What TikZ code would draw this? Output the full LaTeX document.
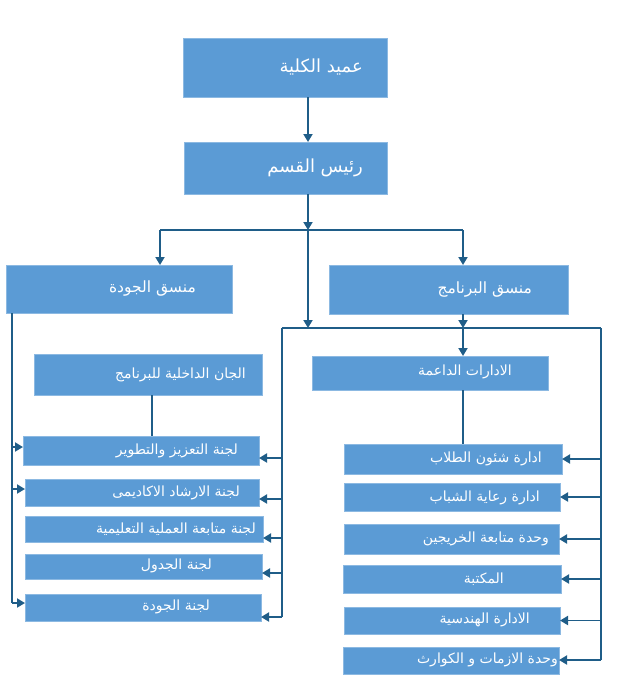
\documentclass[tikz,border=0pt]{standalone}
\usepackage{fontspec}
\newfontfamily\arabicfont[Script=Arabic]{DejaVu Sans}
\TeXXeTstate=1
\usetikzlibrary{arrows.meta}
\definecolor{boxblue}{RGB}{91,155,213}
\definecolor{linecol}{RGB}{31,93,136}
\newcommand{\artxt}[1]{\arabicfont\beginR #1\endR}
\begin{document}
\begin{tikzpicture}[x=1pt,y=-1pt,
  box/.style={fill=boxblue, draw=boxblue!70!white, line width=0.6pt, inner sep=0pt, outer sep=0pt},
  txt/.style={text=white, inner sep=0pt, anchor=east},
  big/.style={font=\fontsize{18}{20}\selectfont},
  mid/.style={font=\fontsize{15.5}{17}\selectfont},
  small/.style={font=\fontsize{14}{16}\selectfont},
  conn/.style={draw=linecol, line width=1.8pt},
  arr/.style={conn, -{Triangle[length=8pt,width=9pt]}}]
\useasboundingbox (0,0) rectangle (624,686);
% boxes
\node[box, minimum width=204pt, minimum height=59pt] (dean) at (285,67.5) {};
\node[box, minimum width=203pt, minimum height=52pt] (head) at (285.5,168) {};
\node[box, minimum width=226pt, minimum height=48pt] (qc) at (119,289) {};
\node[box, minimum width=239pt, minimum height=49pt] (pc) at (448.5,289.5) {};
\node[box, minimum width=228pt, minimum height=41pt] (lj) at (148,374.5) {};
\node[box, minimum width=236pt, minimum height=34pt] (sd) at (430,373) {};
\node[box, minimum width=236pt, minimum height=29pt] (L1) at (141,450.5) {};
\node[box, minimum width=234pt, minimum height=27pt] (L2) at (142,492.5) {};
\node[box, minimum width=238pt, minimum height=26pt] (L3) at (144,529) {};
\node[box, minimum width=237pt, minimum height=25pt] (L4) at (143.5,566.5) {};
\node[box, minimum width=236pt, minimum height=27pt] (L5) at (143,607.5) {};
\node[box, minimum width=218pt, minimum height=30pt] (R1) at (453,459) {};
\node[box, minimum width=216pt, minimum height=28pt] (R2) at (452,497) {};
\node[box, minimum width=215pt, minimum height=30pt] (R3) at (451.5,539) {};
\node[box, minimum width=218pt, minimum height=28pt] (R4) at (452,579) {};
\node[box, minimum width=216pt, minimum height=27pt] (R5) at (452,620.5) {};
\node[box, minimum width=216pt, minimum height=27pt] (R6) at (451,660.5) {};
% texts
\node[txt, big] (deanT) at (363,67) {\artxt{عميد الكلية}};
\node[txt, big] (headT) at (363,168) {\artxt{رئيس القسم}};
\node[txt, mid] (qcT) at (196,289) {\artxt{منسق الجودة}};
\node[txt, mid] (pcT) at (532,290) {\artxt{منسق البرنامج}};
\node[txt, small] (ljT) at (246,375) {\artxt{الجان الداخلية للبرنامج}};
\node[txt, small] (sdT) at (512,372) {\artxt{الادارات الداعمة}};
\node[txt, small] (L1T) at (238,451) {\artxt{لجنة التعزيز والتطوير}};
\node[txt, small] (L2T) at (240,493) {\artxt{لجنة الارشاد الاكاديمى}};
\node[txt, small] (L3T) at (256,529) {\artxt{لجنة متابعة العملية التعليمية}};
\node[txt, small] (L4T) at (212,566) {\artxt{لجنة الجدول}};
\node[txt, small] (L5T) at (210,607) {\artxt{لجنة الجودة}};
\node[txt, small] (R1T) at (542,459) {\artxt{ادارة شئون الطلاب}};
\node[txt, small] (R2T) at (540,498) {\artxt{ادارة رعاية الشباب}};
\node[txt, small] (R3T) at (549,539) {\artxt{وحدة متابعة الخريجين}};
\node[txt, small] (R4T) at (504,579) {\artxt{المكتبة}};
\node[txt, small] (R5T) at (530,620) {\artxt{الادارة الهندسية}};
\node[txt, small] (R6T) at (558,660) {\artxt{وحدة الازمات و الكوارث}};
% coordinates
\coordinate (sp) at (308,230);
\coordinate (jl) at (160,230);
\coordinate (jr) at (463,230);
\coordinate (sm) at (308,328);
\coordinate (bl) at (282,328);
\coordinate (br) at (601,328);
\coordinate (bm) at (463,328);
\coordinate (blEnd) at (282,617);
\coordinate (brEnd) at (601,660);
\coordinate (qx) at (12,300);
\coordinate (qEnd) at (12,603);
\coordinate (ljx) at (152,400);
% connectors
\draw[arr] (dean.south -| sp) -- (head.north -| sp);
\draw[arr] (head.south -| sp) -- (sp);
\draw[conn] (jl) -- (jr);
\draw[arr] (jl) -- (qc.north -| jl);
\draw[arr] (jr) -- (pc.north -| jr);
\draw[arr] (sp) -- (sm);
\draw[arr] (pc.south -| bm) -- (bm);
\draw[conn] (bl) -- (br);
\draw[arr] (bm) -- (sd.north -| bm);
\draw[conn] (sd.south -| bm) -- (R1.north -| bm);
\draw[conn] (lj.south -| ljx) -- (L1.north -| ljx);
% left bus
\draw[conn] (bl) -- (blEnd);
\coordinate (lt1) at (282,458);
\coordinate (lt2) at (282,499);
\coordinate (lt3) at (282,538);
\coordinate (lt4) at (282,573);
\draw[arr] (lt1) -- (lt1 -| L1.east);
\draw[arr] (lt2) -- (lt2 -| L2.east);
\draw[arr] (lt3) -- (lt3 -| L3.east);
\draw[arr] (lt4) -- (lt4 -| L4.east);
\draw[arr] (blEnd) -- (blEnd -| L5.east);
% right bus
\draw[conn] (br) -- (brEnd);
\draw[arr] (br |- R1.east) -- (R1.east);
\draw[arr] (br |- R2.east) -- (R2.east);
\draw[arr] (br |- R3.east) -- (R3.east);
\draw[arr] (br |- R4.east) -- (R4.east);
\draw[arr] (br |- R5.east) -- (R5.east);
\draw[arr] (brEnd) -- (brEnd -| R6.east);
% quality coordinator line
\draw[conn] (qc.south -| qx) -- (qEnd);
\coordinate (qt1) at (12,447);
\coordinate (qt2) at (12,489);
\draw[arr] (qt1) -- (qt1 -| L1.west);
\draw[arr] (qt2) -- (qt2 -| L2.west);
\draw[arr] (qEnd) -- (qEnd -| L5.west);
\end{tikzpicture}
\end{document}
